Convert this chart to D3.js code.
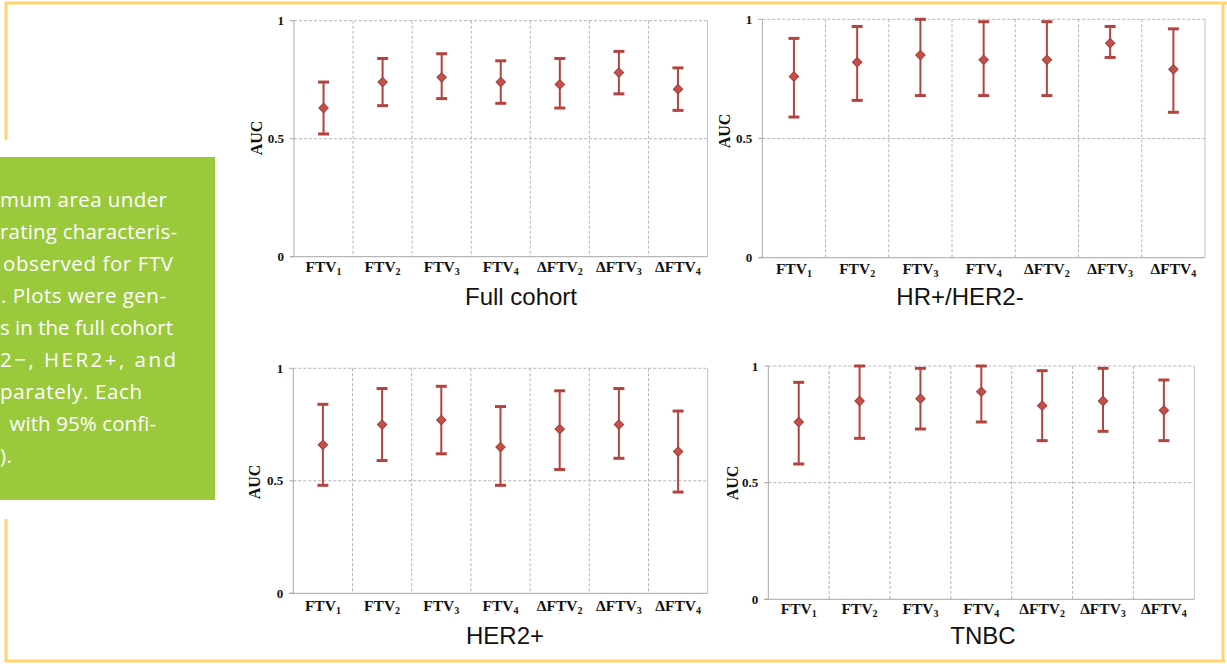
<!DOCTYPE html>
<meta charset="utf-8">
<style>
  body { margin: 0; background: #fff; }
  svg { display: block; }
  .cap { font-family: 'Open Sans', 'Noto Sans', sans-serif; font-size: 20.5px; fill: #fff; }
  .tick { font-family: 'Liberation Serif', 'Times New Roman', serif; font-weight: bold; font-size: 13px; fill: #111; }
  .xl { font-family: 'Liberation Serif', 'Times New Roman', serif; font-weight: bold; font-size: 15.5px; fill: #111; }
  .ttl { font-family: 'Liberation Sans', Arial, sans-serif; font-size: 24px; fill: #111; }
</style>
<body>
<div id="chart"></div>
<script src="https://d3js.org/d3.v7.min.js"></script>
<script>

// categories on the x axis (base name + subscript)
var categories = ["FTV1", "FTV2", "FTV3", "FTV4", "\u0394FTV2", "\u0394FTV3", "\u0394FTV4"];
var yTicks = [0, 0.5, 1];
var titles = ["Full cohort", "HR+/HER2-", "HER2+", "TNBC"];

// AUC and 95% CI per panel
var aucFull = [0.63, 0.74, 0.76, 0.74, 0.73, 0.78, 0.71];
var loFull  = [0.52, 0.64, 0.67, 0.65, 0.63, 0.69, 0.62];
var hiFull  = [0.74, 0.84, 0.86, 0.83, 0.84, 0.87, 0.80];

var aucHR = [0.76, 0.82, 0.85, 0.83, 0.83, 0.90, 0.79];
var loHR  = [0.59, 0.66, 0.68, 0.68, 0.68, 0.84, 0.61];
var hiHR  = [0.92, 0.97, 1.00, 0.99, 0.99, 0.97, 0.96];

var aucHER2 = [0.66, 0.75, 0.77, 0.65, 0.73, 0.75, 0.63];
var loHER2  = [0.48, 0.59, 0.62, 0.48, 0.55, 0.60, 0.45];
var hiHER2  = [0.84, 0.91, 0.92, 0.83, 0.90, 0.91, 0.81];

var aucTN = [0.76, 0.85, 0.86, 0.89, 0.83, 0.85, 0.81];
var loTN  = [0.58, 0.69, 0.73, 0.76, 0.68, 0.72, 0.68];
var hiTN  = [0.93, 1.00, 0.99, 1.00, 0.98, 0.99, 0.94];

// caption lines in the green box (cut off on the left)
var captionLines = ["mum area under", "rating characteris-", "observed for FTV", ". Plots were gen-",
  "s in the full cohort", "2\u2212, HER2+, and", "parately. Each", " with 95% confi-", ")."];

var W = 1227, H = 664;
var svg = d3.select("#chart").append("svg").attr("width", W).attr("height", H);

// green caption box
svg.append("rect").attr("x", 0).attr("y", 157).attr("width", 215).attr("height", 343).attr("fill", "#9aca3c");
var capX = [0, 0, 3, 1, 0, 0, 0, 4, 0];
var capW = [167, 177, 170, 165, 173, 176, 142, 152, 12];
svg.selectAll(".cap").data(captionLines).enter().append("text")
  .attr("class", "cap")
  .attr("x", function(d, i) { return capX[i]; })
  .attr("y", function(d, i) { return 207 + i * 32; })
  .attr("textLength", function(d, i) { return capW[i]; })
  .attr("xml:space", "preserve")
  .text(function(d) { return d; });

// yellow frame
var fc = "#ffd46e";
svg.append("line").attr("x1", 5).attr("x2", 1227).attr("y1", 3).attr("y2", 3).attr("stroke", fc).attr("stroke-width", 3);
svg.append("line").attr("x1", 5).attr("x2", 1225).attr("y1", 661).attr("y2", 661).attr("stroke", fc).attr("stroke-width", 3);
svg.append("line").attr("x1", 1223).attr("x2", 1223).attr("y1", 2).attr("y2", 662).attr("stroke", fc).attr("stroke-width", 3);
svg.append("line").attr("x1", 6).attr("x2", 6).attr("y1", 2).attr("y2", 140).attr("stroke", fc).attr("stroke-width", 3);
svg.append("line").attr("x1", 6).attr("x2", 6).attr("y1", 519).attr("y2", 662).attr("stroke", fc).attr("stroke-width", 3);

var panels = [
  {auc: aucFull, lo: loFull, hi: hiFull, l: 294, r: 707.5, t: 20.7, b: 256.7, lab: 272, aucX: 257, aucY: 138, tx: 521, ty: 305},
  {auc: aucHR, lo: loHR, hi: hiHR, l: 762.3, r: 1205, t: 19.3, b: 257.7, lab: 274, aucX: 725, aucY: 131, tx: 960, ty: 305},
  {auc: aucHER2, lo: loHER2, hi: hiHER2, l: 293.3, r: 707.7, t: 368.3, b: 593.3, lab: 611, aucX: 255, aucY: 482, tx: 505, ty: 644},
  {auc: aucTN, lo: loTN, hi: hiTN, l: 768.3, r: 1194.3, t: 366, b: 599.3, lab: 614, aucX: 733, aucY: 483, tx: 983, ty: 644}
];

panels.forEach(function(p, pi) {
  var x = d3.scaleBand().domain(categories).range([p.l, p.r]);
  var y = d3.scaleLinear().domain([0, 1]).range([p.b, p.t]);
  var g = svg.append("g");

  // dashed grid
  g.selectAll(".vg").data(categories.slice(1)).enter().append("line")
    .attr("x1", function(d) { return x(d); }).attr("x2", function(d) { return x(d); })
    .attr("y1", p.t).attr("y2", p.b)
    .attr("stroke", "#b4b4b4").attr("stroke-dasharray", "3,2");
  g.selectAll(".hg").data([0.5, 1]).enter().append("line")
    .attr("x1", p.l).attr("x2", p.r)
    .attr("y1", function(d) { return y(d); }).attr("y2", function(d) { return y(d); })
    .attr("stroke", "#b4b4b4").attr("stroke-dasharray", "3,2");
  g.append("line").attr("x1", p.r).attr("x2", p.r).attr("y1", p.t).attr("y2", p.b).attr("stroke", "#c4c4c4");

  // axes
  g.append("line").attr("x1", p.l).attr("x2", p.l).attr("y1", p.t).attr("y2", p.b).attr("stroke", "#a6a6a6");
  g.append("line").attr("x1", p.l - 4).attr("x2", p.r).attr("y1", p.b).attr("y2", p.b).attr("stroke", "#a6a6a6");
  g.selectAll(".tk").data(yTicks).enter().append("line")
    .attr("x1", p.l - 4).attr("x2", p.l)
    .attr("y1", function(d) { return y(d); }).attr("y2", function(d) { return y(d); })
    .attr("stroke", "#a6a6a6");
  g.selectAll(".tl").data(yTicks).enter().append("text")
    .attr("class", "tick").attr("text-anchor", "end")
    .attr("x", p.l - 10).attr("y", function(d) { return y(d) + 4.5; })
    .text(function(d) { return d; });

  g.append("text").attr("class", "tick").style("font-size", "16px")
    .attr("text-anchor", "middle")
    .attr("transform", "translate(" + (p.aucX + 5) + "," + p.aucY + ") rotate(-90)")
    .text("AUC");

  // category labels with subscripts
  var xl = g.selectAll(".xl").data(categories).enter().append("text")
    .attr("class", "xl").attr("text-anchor", "middle")
    .attr("x", function(d) { return x(d) + x.bandwidth() / 2; })
    .attr("y", p.lab);
  xl.append("tspan").text(function(d) { return d.slice(0, -1); });
  xl.append("tspan").attr("dy", 3).style("font-size", "10px").text(function(d) { return d.slice(-1); });

  // error bars
  var idx = d3.range(categories.length);
  var cx = function(i) { return x(categories[i]) + x.bandwidth() / 2; };
  var col = "#b3433f";
  g.selectAll(".eb").data(idx).enter().append("line")
    .attr("x1", cx).attr("x2", cx)
    .attr("y1", function(i) { return y(p.lo[i]); }).attr("y2", function(i) { return y(p.hi[i]); })
    .attr("stroke", col).attr("stroke-width", 2);
  [p.lo, p.hi].forEach(function(arr) {
    g.selectAll(null).data(idx).enter().append("line")
      .attr("x1", function(i) { return cx(i) - 5.5; }).attr("x2", function(i) { return cx(i) + 5.5; })
      .attr("y1", function(i) { return y(arr[i]); }).attr("y2", function(i) { return y(arr[i]); })
      .attr("stroke", col).attr("stroke-width", 3);
  });
  g.selectAll(".pt").data(idx).enter().append("path")
    .attr("d", d3.symbol().type(d3.symbolSquare).size(44))
    .attr("transform", function(i) { return "translate(" + cx(i) + "," + y(p.auc[i]) + ") rotate(45)"; })
    .attr("fill", "#c4504c").attr("stroke", "#a63a36").attr("stroke-width", 1);

  g.append("text").attr("class", "ttl").attr("text-anchor", "middle")
    .attr("x", p.tx).attr("y", p.ty).text(titles[pi]);
});
</script>
</body>
